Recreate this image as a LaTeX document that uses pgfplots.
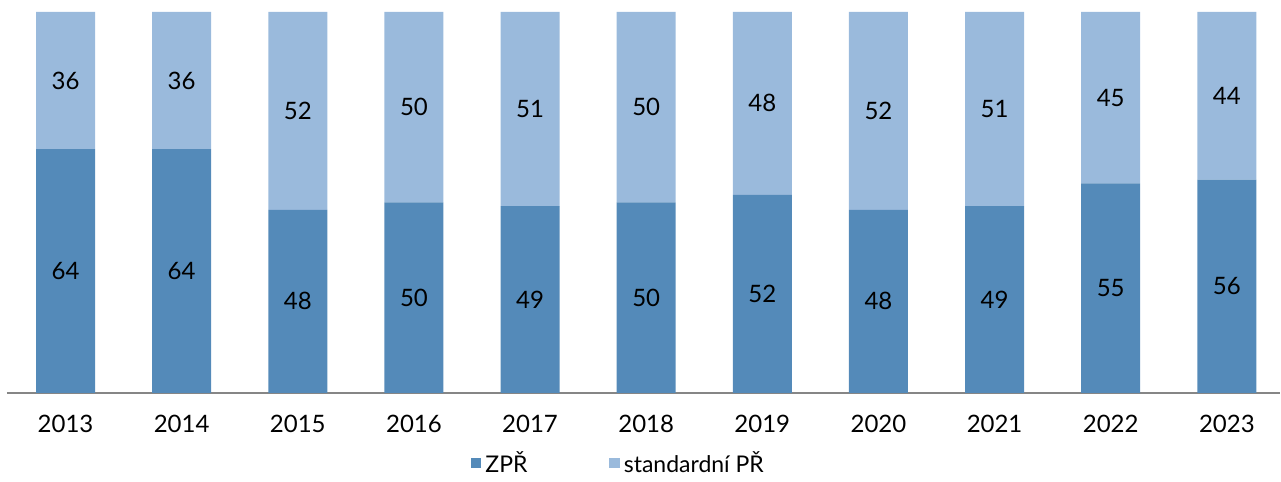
\documentclass[border=0pt]{standalone}
\usepackage{fontspec}
\setmainfont{Lato}
\usepackage{pgfplots}
\pgfplotsset{compat=1.18}
\definecolor{DarkBlue}{RGB}{84,138,185}
\definecolor{LightBlue}{RGB}{154,186,220}
\definecolor{AxisGray}{RGB}{134,134,134}

\pgfplotsset{
  base/.style={
    scale only axis,
    width=637pt, height=196.5pt,
    xmin=-0.504, xmax=10.46,
    ymin=0, ymax=103.15,
    /pgf/number format/assume math mode=true,
  }
}

\begin{document}
\begin{tikzpicture}
\begin{axis}[
    base,
    ybar stacked,
    bar width=29.5pt,
    axis x line=bottom,
    axis y line=none,
    axis line style={draw=AxisGray, line width=0.75pt, -},
    xtick={0,...,10},
    xticklabels={2013,2014,2015,2016,2017,2018,2019,2020,2021,2022,2023},
    major tick length=0pt,
    xticklabel style={font=\fontsize{12}{14}\selectfont, yshift=-7.5pt},
    clip=false,
    legend style={
      at={(axis description cs:0.481,0)}, yshift=-26pt, anchor=north,
      draw=none, fill=none, legend columns=2,
      font=\fontsize{11.5}{13}\selectfont,
      inner sep=1pt,
      /tikz/every even column/.append style={column sep=39pt},
      legend cell align=left,
    },
    legend image code/.code={\fill[#1] (0pt,-2.6pt) rectangle (5.2pt,2.6pt);},
]
\addplot[fill=DarkBlue, draw=none] coordinates {
  (0,64) (1,64) (2,48) (3,50) (4,49) (5,50) (6,52) (7,48) (8,49) (9,55) (10,56)
};
\addplot[fill=LightBlue, draw=none] coordinates {
  (0,36) (1,36) (2,52) (3,50) (4,51) (5,50) (6,48) (7,52) (8,51) (9,45) (10,44)
};
\legend{ZPŘ, standardní PŘ}
\path ([xshift=-3.5pt]rel axis cs:0,0) -- (rel axis cs:0,1);
\end{axis}
\begin{axis}[
    base,
    hide axis,
    nodes near coords,
    point meta=explicit symbolic,
    every node near coord/.append style={anchor=center, font=\fontsize{12}{14}\selectfont},
]
\addplot[only marks, mark=none] coordinates {
  (0,32)[64] (1,32)[64] (2,24)[48] (3,25)[50] (4,24.5)[49] (5,25)[50]
  (6,26)[52] (7,24)[48] (8,24.5)[49] (9,27.5)[55] (10,28)[56]
  (0,82)[36] (1,82)[36] (2,74)[52] (3,75)[50] (4,74.5)[51] (5,75)[50]
  (6,76)[48] (7,74)[52] (8,74.5)[51] (9,77.5)[45] (10,78)[44]
};
\end{axis}
\end{tikzpicture}
\end{document}
